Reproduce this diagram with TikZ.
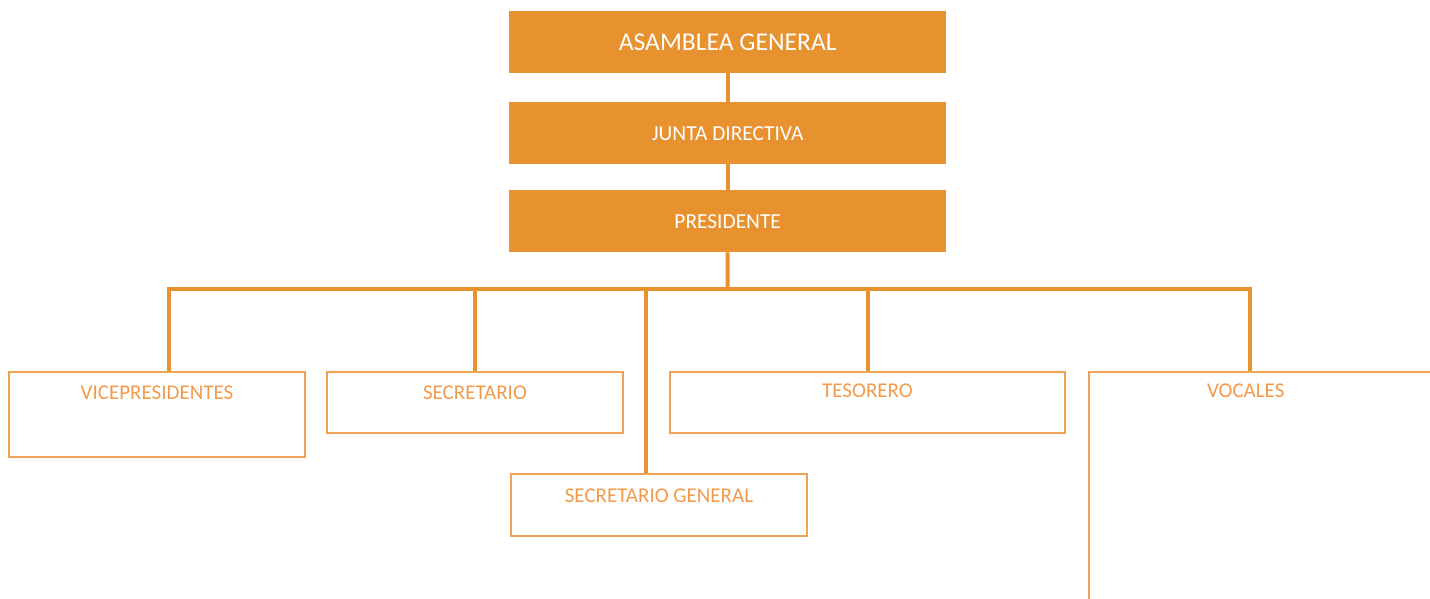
\documentclass[tikz,border=0pt]{standalone}
\usepackage{fontspec}
\setmainfont{Carlito}
\definecolor{org}{HTML}{E8912F}
\definecolor{bord}{HTML}{F0A255}
\definecolor{ltxt}{HTML}{F39A4A}
\begin{document}
\begin{tikzpicture}[x=1pt,y=-1pt,
  topbox/.style={fill=org, draw=none, text=white, anchor=north west,
    minimum width=437pt, minimum height=62pt, inner sep=0pt},
  lowbox/.style={draw=bord, line width=2pt, fill=white, text=ltxt,
    font=\fontsize{21}{21}\selectfont, anchor=north west, inner xsep=0pt, inner ysep=0pt},
  conn/.style={draw=org, line width=4pt, line join=miter}]
\fill[white] (0,0) rectangle (1430,599);
\clip (0,0) rectangle (1430,599);
% top boxes
\node[topbox, font=\fontsize{25.6}{26}\selectfont] (ag) at (509,11) {ASAMBLEA GENERAL};
\node[topbox, font=\fontsize{21.4}{22}\selectfont] (jd) at (509,102) {JUNTA DIRECTIVA};
\node[topbox, font=\fontsize{21.4}{22}\selectfont] (pr) at (509,190) {PRESIDENTE};
% lower boxes
\node[lowbox, minimum width=296pt, text height=27.75pt, text depth=57.25pt] (vp) at (8,371) {VICEPRESIDENTES};
\node[lowbox, minimum width=296pt, text height=27.75pt, text depth=33.25pt] (sc) at (326,371) {SECRETARIO};
\node[lowbox, minimum width=395pt, text height=25.75pt, text depth=35.25pt] (ts) at (669,371) {TESORERO};
\node[lowbox, minimum width=296pt, text height=28.75pt, text depth=33.25pt] (sg) at (510,473) {SECRETARIO GENERAL};
\node[lowbox, inner xsep=118pt, text width=242pt, align=left, text height=25.75pt, text depth=240pt] (vc) at (1088,371) {VOCALES};
% connectors
\draw[conn] (ag.south) -- (jd.north);
\draw[conn] (jd.south) -- (pr.north);
\coordinate (bus) at (727.5,289);
\draw[conn] (pr.south) -- (bus);
\draw[conn] (bus) -| ([xshift=12pt]vp.north);
\draw[conn] (bus) -| (sc.north);
\draw[conn] (bus) -| ([xshift=-13pt]sg.north);
\draw[conn] (bus) -| (ts.north);
\draw[conn] (bus) -| ([xshift=162pt]vc.north west);
\end{tikzpicture}
\end{document}
